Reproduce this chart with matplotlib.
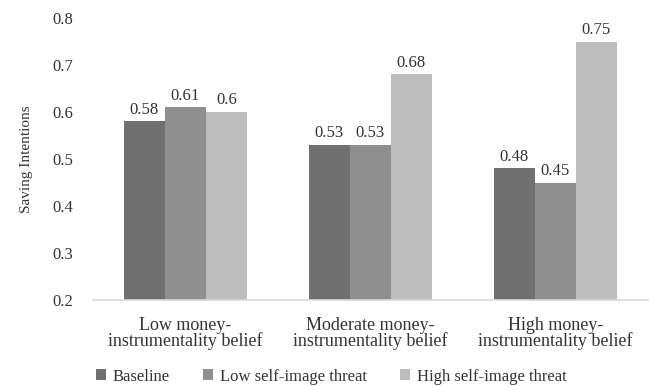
import numpy as np
import matplotlib
matplotlib.use("Agg")
import matplotlib.pyplot as plt

plt.rcParams['font.family'] = ['Liberation Serif', 'DejaVu Serif']

categories = ["Low money-\ninstrumentality belief",
              "Moderate money-\ninstrumentality belief",
              "High money-\ninstrumentality belief"]
series_names = ["Baseline", "Low self-image threat", "High self-image threat"]
baseline = [0.58, 0.53, 0.48]
low_threat = [0.61, 0.53, 0.45]
high_threat = [0.60, 0.68, 0.75]
value_labels = [["0.58", "0.53", "0.48"],
                ["0.61", "0.53", "0.45"],
                ["0.6", "0.68", "0.75"]]
colors = ["#707070", "#8f8f8f", "#bdbdbd"]
text_col = '#333333'

fig = plt.figure(figsize=(6.49, 3.86), dpi=100)
ax = fig.add_axes([0.143, 0.223, 0.855, 0.73])

x = np.arange(len(categories))
w = 0.222
all_series = [baseline, low_threat, high_threat]
for i, vals in enumerate(all_series):
    bars = ax.bar(x + (i - 1) * w, np.array(vals) - 0.2, w, bottom=0.2,
                  color=colors[i], label=series_names[i])
    for b, v, lab in zip(bars, vals, value_labels[i]):
        ax.text(b.get_x() + b.get_width() / 2, v + 0.008, lab,
                ha='center', va='bottom', fontsize=12, color=text_col)

ax.set_xlim(-0.5, 2.5)
ax.set_ylim(0.2, 0.8)
ax.set_yticks(np.arange(0.2, 0.81, 0.1))
ax.set_yticklabels(["0.2", "0.3", "0.4", "0.5", "0.6", "0.7", "0.8"])
ax.set_xticks(x)
ax.set_xticklabels(categories, fontsize=13, color=text_col, linespacing=0.93)
ax.tick_params(axis='y', length=0, labelsize=12, labelcolor=text_col, pad=14)
ax.tick_params(axis='x', length=0, pad=12)
for s in ['top', 'right', 'left']:
    ax.spines[s].set_visible(False)
ax.spines['bottom'].set_color('#d9d9d9')
ax.spines['bottom'].set_linewidth(1.2)
ax.set_ylabel("Saving Intentions", fontsize=11, color=text_col, labelpad=14)

fig.legend(loc='lower center', bbox_to_anchor=(0.51, -0.035), ncol=3, frameon=False,
           fontsize=12, handlelength=0.6, handleheight=0.6, handletextpad=0.4,
           columnspacing=2.0, labelcolor=text_col)

fig.savefig("out.png", dpi=100)
